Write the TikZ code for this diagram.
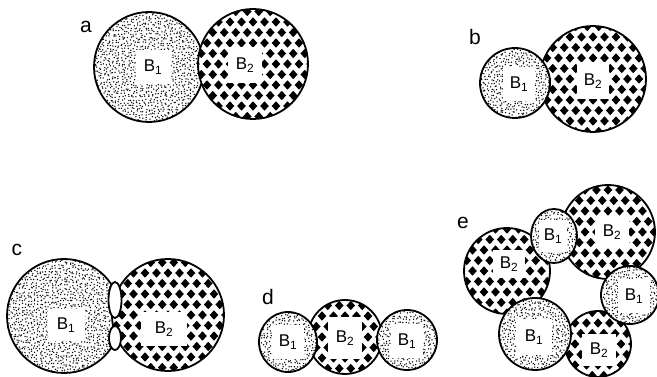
\documentclass[tikz,border=0pt]{standalone}
\usepackage{fontspec}
\setmainfont{Liberation Sans}
\tikzset{
  rim/.style={line width=1.8pt},
  tag/.style={fill=white, inner sep=0pt, font=\fontsize{17}{17}\selectfont},
  panel/.style={font=\fontsize{21}{21}\selectfont, inner sep=0pt},
}
% stippled disc: centre x, centre y, x radius, y radius
\newcommand\stipdisk[4]{%
  \begin{scope}
    \clip (#1,#2) ellipse [x radius=#3pt, y radius=#4pt];
    \fill[white] (#1,#2) ellipse [x radius=#3pt, y radius=#4pt];
    \pgfmathtruncatemacro\stnx{#3/3+1}%
    \pgfmathtruncatemacro\stny{#4/3+1}%
    \foreach \i in {-\stnx,...,\stnx}{%
      \foreach \j in {-\stny,...,\stny}{%
        \pgfmathsetmacro\dotx{#1+3*\i+1.3*rand}%
        \pgfmathsetmacro\doty{#2+3*\j+1.3*rand}%
        \fill (\dotx,\doty) circle (0.75pt);
      }}
  \end{scope}
  \draw[rim] (#1,#2) ellipse [x radius=#3pt, y radius=#4pt];
}
% disc covered with black diamonds: centre x, centre y, radius
\newcommand\checkdisk[3]{%
  \begin{scope}
    \clip (#1,#2) circle (#3pt);
    \fill[white] (#1,#2) circle (#3pt);
    \pgfmathtruncatemacro\chnc{#3/11.5+1}%
    \pgfmathtruncatemacro\chnr{#3/10.5+1}%
    \foreach \j in {-\chnr,...,\chnr}{%
      \foreach \i in {-\chnc,...,\chnc}{%
        \pgfmathsetmacro\dmx{#1+11.5*\i+5.75*mod(abs(\j),2)}%
        \pgfmathsetmacro\dmy{#2+10.5*\j}%
        \fill (\dmx-4.3,\dmy) -- (\dmx,\dmy-4.7) -- (\dmx+4.3,\dmy) -- (\dmx,\dmy+4.7) -- cycle;
      }}
  \end{scope}
  \draw[rim] (#1,#2) circle (#3pt);
}
\newcommand\bone{B\textsubscript{1}}
\newcommand\btwo{B\textsubscript{2}}
\begin{document}
\begin{tikzpicture}[x=1pt,y=-1pt]
  \pgfmathsetseed{11}
  \useasboundingbox (0,0) rectangle (657,377);
  \fill[white] (0,0) rectangle (657,377);

  % panel a
  \node[panel] (la) at (86,27) {a};
  \stipdisk{149}{67}{55}{55}
  \checkdisk{253}{64}{55}
  \node[tag, minimum width=35pt, minimum height=34pt] (a1) at (153,67) {\bone};
  \node[tag, minimum width=34pt, minimum height=36pt] (a2) at (245,65) {\btwo};

  % panel b
  \node[panel] (lb) at (475,37) {b};
  \checkdisk{593}{79}{53}
  \stipdisk{515}{83}{35}{35}
  \node[tag, minimum width=32pt, minimum height=34pt] (b1) at (519,84) {\bone};
  \node[tag, minimum width=32pt, minimum height=37pt] (b2) at (593,81) {\btwo};

  % panel c
  \node[panel] (lc) at (17,250) {c};
  \stipdisk{64}{316}{57}{57}
  \checkdisk{168}{315}{56}
  \draw[rim, fill=white] (115,300) ellipse [x radius=6.5pt, y radius=18pt];
  \draw[rim, fill=white] (115,338) ellipse [x radius=6pt, y radius=12pt];
  \node[tag, minimum width=37pt, minimum height=32pt] (c1) at (66,325) {\bone};
  \node[tag, minimum width=46pt, minimum height=34pt] (c2) at (164,329) {\btwo};

  % panel d
  \node[panel] (ld) at (268,297) {d};
  \checkdisk{345}{337}{37}
  \stipdisk{288}{342}{29}{30}
  \stipdisk{407}{340}{30}{30}
  \node[tag, minimum width=34pt, minimum height=42pt] (d2) at (345,338) {\btwo};
  \node[tag, minimum width=32pt, minimum height=34pt] (d1) at (288,342) {\bone};
  \node[tag, minimum width=32pt, minimum height=34pt] (d3) at (407,341) {\bone};

  % panel e
  \node[panel] (le) at (463,223) {e};
  \checkdisk{507}{271}{43}
  \checkdisk{608}{232}{47}
  \checkdisk{598}{344}{33}
  \stipdisk{554}{236}{23}{27}
  \stipdisk{630}{295}{29}{29}
  \stipdisk{535}{334}{36}{36}
  \node[tag, minimum width=32pt, minimum height=28pt] (e1) at (509,264) {\btwo};
  \node[tag, minimum width=28pt, minimum height=32pt] (e2) at (553,236) {\bone};
  \node[tag, minimum width=34pt, minimum height=30pt] (e3) at (612,232) {\btwo};
  \node[tag, minimum width=32pt, minimum height=34pt] (e4) at (634,296) {\bone};
  \node[tag, minimum width=36pt, minimum height=36pt] (e5) at (534,337) {\bone};
  \node[tag, minimum width=34pt, minimum height=32pt] (e6) at (599,350) {\btwo};
\end{tikzpicture}
\end{document}
